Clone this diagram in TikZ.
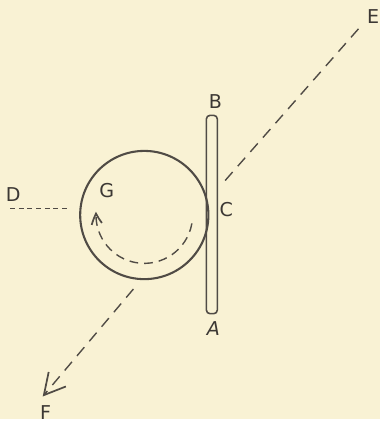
\documentclass[tikz,border=0pt]{standalone}
\usepackage{fontspec}
\setsansfont{DejaVu Sans}
\usetikzlibrary{arrows.meta,bending}
\definecolor{paper}{HTML}{F9F2D4}
\definecolor{ink}{HTML}{504B45}
\definecolor{letter}{HTML}{3C3834}
\begin{document}
\begin{tikzpicture}[x=0.02cm,y=-0.02cm,
    every node/.style={text=letter,font=\sffamily\fontsize{11}{13}\selectfont},
    longdash/.style={ink,line width=0.8pt,dash pattern=on 6.5pt off 4.5pt},
    shortdash/.style={ink,line width=0.7pt,dash pattern=on 2.8pt off 2.2pt},
    barb/.style={-{Straight Barb[length=12pt,width=13pt,line width=1pt]}}]
  \fill[paper] (0,0) rectangle (385,425);
  % wheel and rod
  \draw[ink,line width=1.2pt] (146,218) circle (65);
  \draw[ink,line width=0.9pt,rounded corners=2pt] (209,117) rectangle (220,318);
  % letters
  \node (B) at (218,103) {B};
  \node (A) at (216,333) {\itshape A};
  \node (C) at (229,212) {C};
  \node (G) at (108,193) {G};
  \node (D) at (13,197) {D};
  \node (E) at (378,17) {E};
  \node (F) at (46,418) {F};
  % lines of action
  \coordinate (d0) at (10,211);
  \coordinate (d1) at (68,211);
  \coordinate (e0) at (228,183);
  \coordinate (e1) at (366,26);
  \coordinate (f0) at (135,293);
  \coordinate (f1) at (43,402);
  \draw[shortdash] (d0) -- (d1);
  \draw[longdash] (e0) -- (e1);
  \draw[longdash,barb] (f0) -- (f1);
  % spin
  \draw[ink,line width=0.8pt,dash pattern=on 5pt off 3.5pt,
        -{Straight Barb[length=6pt,width=6pt,bend,line width=1pt]}]
    (146,218) ++(10:49) arc[start angle=10,end angle=184,radius=49];
\end{tikzpicture}
\end{document}
